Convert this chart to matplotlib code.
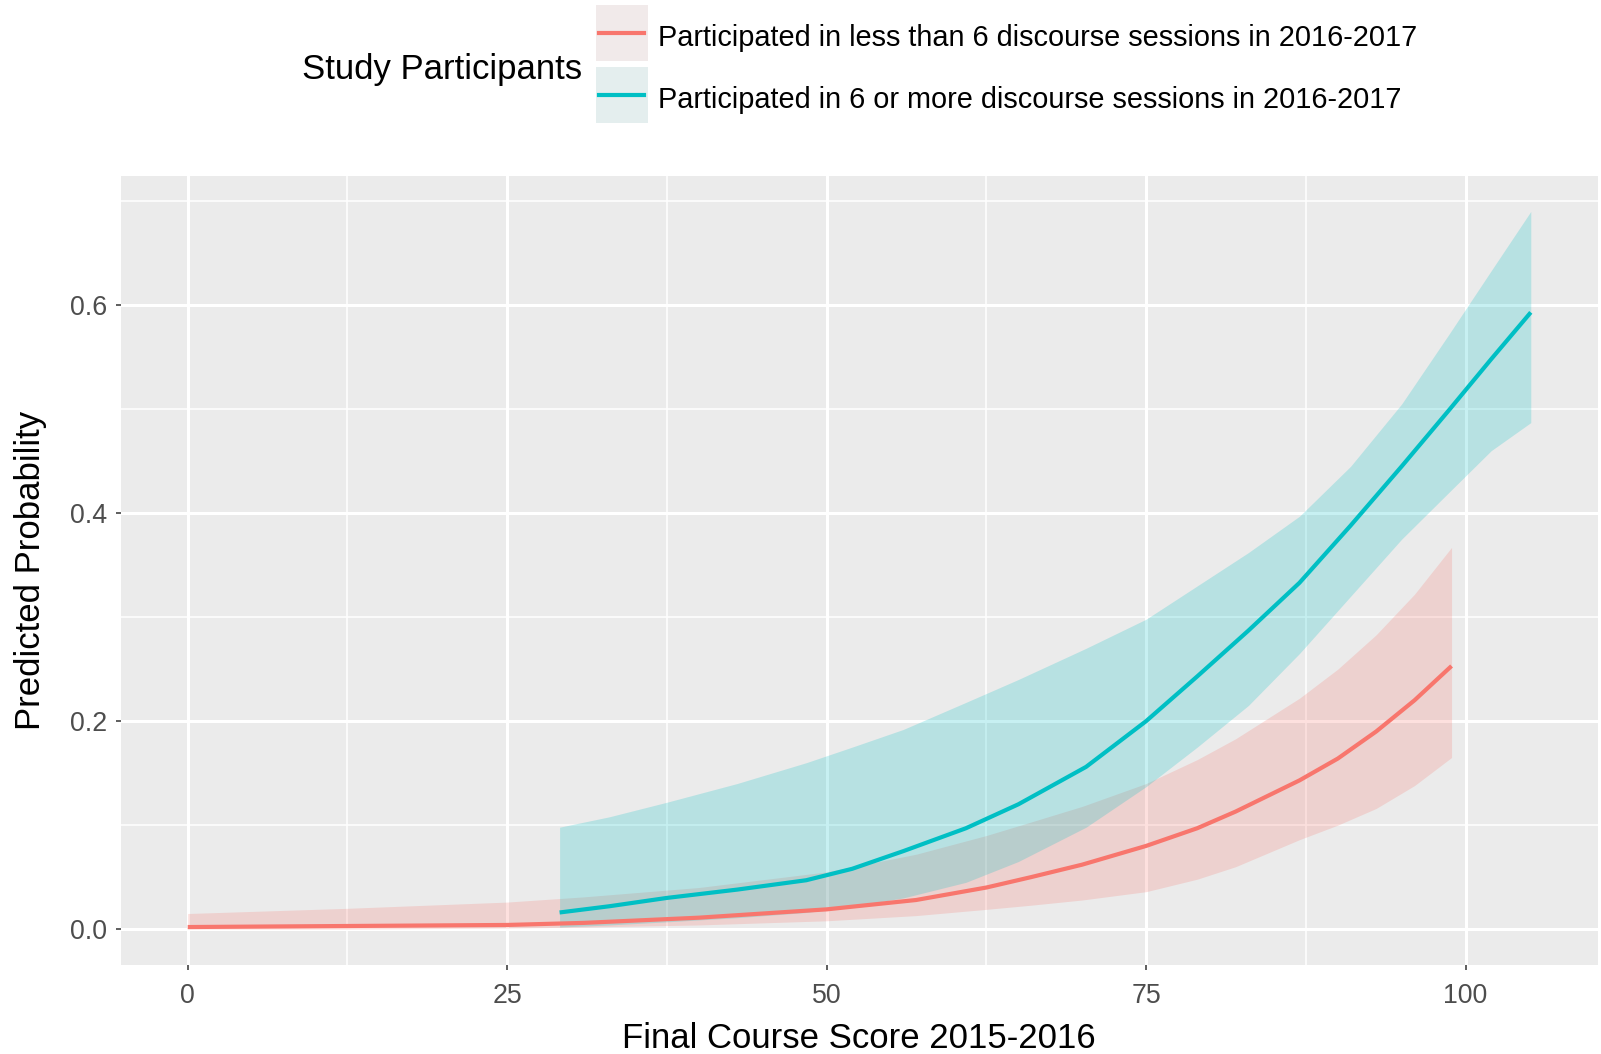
import matplotlib
matplotlib.use('Agg')
import matplotlib.pyplot as plt
from matplotlib import font_manager
from matplotlib.patches import Rectangle
from matplotlib.lines import Line2D

# predicted probability, fewer than 6 sessions
red_x = [0, 12.5, 25, 31, 40, 50, 57, 62.5, 66, 70, 75, 79, 82, 87, 90, 93, 96, 98.9]
red_fit = [0.002, 0.003, 0.004, 0.006, 0.011, 0.019, 0.028, 0.040, 0.050, 0.062,
           0.080, 0.097, 0.113, 0.143, 0.164, 0.190, 0.220, 0.253]
red_lo = [0.000, 0.000, 0.001, 0.002, 0.004, 0.008, 0.013, 0.019, 0.023, 0.028,
          0.036, 0.048, 0.060, 0.086, 0.100, 0.116, 0.138, 0.165]
red_hi = [0.015, 0.020, 0.026, 0.031, 0.040, 0.055, 0.072, 0.090, 0.103, 0.118,
          0.140, 0.163, 0.183, 0.222, 0.250, 0.283, 0.322, 0.367]

# predicted probability, 6 or more sessions
teal_x = [29.1, 33, 37.5, 43, 48.4, 52, 56, 60.9, 65, 70.3, 75, 79, 83, 87, 91, 95,
          98.7, 102, 105.1]
teal_fit = [0.016, 0.022, 0.030, 0.038, 0.047, 0.058, 0.075, 0.097, 0.120, 0.156,
            0.200, 0.243, 0.287, 0.333, 0.388, 0.445, 0.499, 0.548, 0.593]
teal_lo = [0.002, 0.004, 0.007, 0.011, 0.016, 0.022, 0.030, 0.045, 0.065, 0.098,
           0.137, 0.175, 0.215, 0.265, 0.320, 0.375, 0.420, 0.460, 0.487]
teal_hi = [0.098, 0.108, 0.122, 0.140, 0.160, 0.175, 0.192, 0.218, 0.240, 0.270,
           0.298, 0.330, 0.362, 0.397, 0.445, 0.505, 0.572, 0.633, 0.690]

labels = ['Participated in less than 6 discourse sessions in 2016-2017',
          'Participated in 6 or more discourse sessions in 2016-2017']
colors = ['#F8766D', '#00BFC4']

names = {f.name for f in font_manager.fontManager.ttflist}
if 'Liberation Sans Narrow' in names:
    plt.rcParams['font.family'] = ['Liberation Sans Narrow', 'DejaVu Sans']
    k = 1.0
else:
    plt.rcParams['font.family'] = ['Liberation Sans', 'DejaVu Sans']
    k = 0.82

title_size = 30.5 * k
tick_size = 23.5 * k
leg_size = 25.4 * k

W, H = 1601, 1054
fig = plt.figure(figsize=(W / 100, H / 100), dpi=100)
ax = fig.add_axes([120.5 / W, 1 - 965 / H, (1598 - 120.5) / W, (965 - 175.6) / H])

ax.set_facecolor('#EBEBEB')
for s in ax.spines.values():
    s.set_visible(False)

# ribbons first, then the fitted lines
ax.fill_between(red_x, red_lo, red_hi, color=colors[0], alpha=0.22, lw=0)
ax.fill_between(teal_x, teal_lo, teal_hi, color=colors[1], alpha=0.22, lw=0)
ax.plot(red_x, red_fit, color=colors[0], lw=3, solid_capstyle='butt')
ax.plot(teal_x, teal_fit, color=colors[1], lw=3, solid_capstyle='butt')

ax.set_xlim(-5.26, 110.36)
ax.set_ylim(-0.0345, 0.7245)
ax.set_xticks([0, 25, 50, 75, 100])
ax.set_xticks([12.5, 37.5, 62.5, 87.5], minor=True)
ax.set_yticks([0.0, 0.2, 0.4, 0.6])
ax.set_yticks([0.1, 0.3, 0.5, 0.7], minor=True)
ax.set_yticklabels(['0.0', '0.2', '0.4', '0.6'])
ax.grid(which='major', color='white', lw=2.2)
ax.grid(which='minor', color='white', lw=1.1)
ax.set_axisbelow(True)
ax.tick_params(which='major', length=3.6, width=1.1, color='#333333',
               labelcolor='#4D4D4D', labelsize=tick_size)
ax.tick_params(axis='x', which='major', pad=9.5)
ax.tick_params(axis='y', which='major', pad=6)
ax.tick_params(which='minor', length=0)

ax.set_xlabel('Final Course Score 2015-2016', fontsize=title_size)
ax.set_ylabel('Predicted Probability', fontsize=title_size)
ax.xaxis.set_label_coords(0.5, (965 - 1038) / (965 - 175.6))
ax.xaxis.label.set_va('center')
ax.yaxis.set_label_coords((30.6 - 120.5) / (1598 - 120.5), 0.5)
ax.yaxis.label.set_va('center')

# legend drawn in figure pixels: key box, faint ribbon tint, line, label
tr = fig.transFigure
for yc, yt, c, lab in zip([33, 95], [38, 100], colors, labels):
    y0 = 1 - (yc + 27.5) / H
    fig.patches.append(Rectangle((596 / W, y0), 52 / W, 55 / H, transform=tr,
                                 facecolor='#F1F1F1', edgecolor='none'))
    fig.patches.append(Rectangle((596 / W, y0), 52 / W, 55 / H, transform=tr,
                                 facecolor=c, alpha=0.05, edgecolor='none'))
    fig.lines.append(Line2D([599 / W, 644 / W], [1 - yc / H, 1 - yc / H],
                            transform=tr, color=c, lw=3))
    fig.text(658 / W, 1 - yt / H, lab, fontsize=leg_size, ha='left', va='center')

fig.text(302 / W, 1 - 69 / H, 'Study Participants', fontsize=title_size,
         ha='left', va='center')

fig.savefig('out.png', dpi=100)
